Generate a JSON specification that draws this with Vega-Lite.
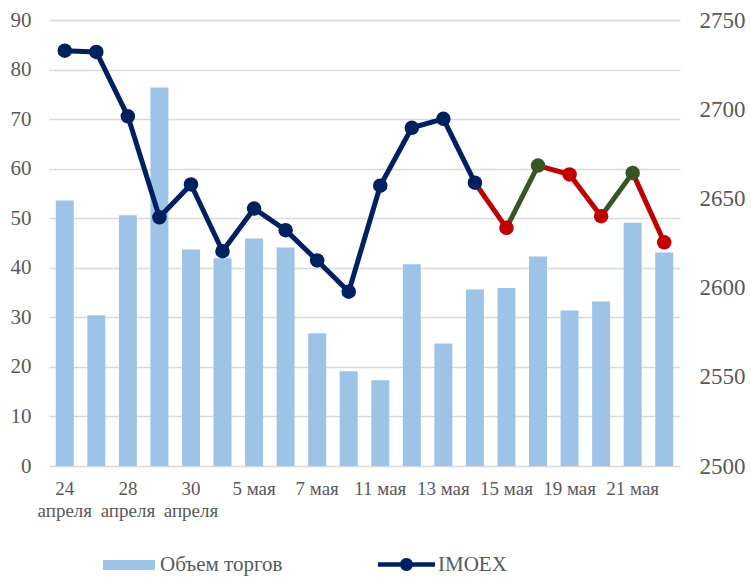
{
  "$schema": "https://vega.github.io/schema/vega-lite/v6.json",
  "width": 631,
  "height": 446,
  "autosize": "none",
  "padding": {"left": 49, "top": 20, "right": 71, "bottom": 111},
  "config": {
    "font": "Liberation Serif",
    "view": {"stroke": null},
    "axis": {"labelColor": "#595959", "ticks": false, "domain": false, "labelFont": "Liberation Serif"},
    "legend": {"labelFont": "Liberation Serif", "labelColor": "#595959", "labelFontSize": 21}
  },
  "data": {
    "values": [
      {"d": "24 апреля", "vol": 53.6, "imoex": 2732.8, "trend": "base"},
      {"d": "25 апреля", "vol": 30.4, "imoex": 2732.1, "trend": "base"},
      {"d": "28 апреля", "vol": 50.6, "imoex": 2696.0, "trend": "base"},
      {"d": "29 апреля", "vol": 76.4, "imoex": 2639.4, "trend": "base"},
      {"d": "30 апреля", "vol": 43.7, "imoex": 2657.8, "trend": "base"},
      {"d": "2 мая", "vol": 41.9, "imoex": 2620.4, "trend": "base"},
      {"d": "5 мая", "vol": 45.9, "imoex": 2644.3, "trend": "base"},
      {"d": "6 мая", "vol": 44.1, "imoex": 2632.2, "trend": "base"},
      {"d": "7 мая", "vol": 26.8, "imoex": 2615.2, "trend": "base"},
      {"d": "8 мая", "vol": 19.1, "imoex": 2597.7, "trend": "base"},
      {"d": "11 мая", "vol": 17.3, "imoex": 2657.1, "trend": "base"},
      {"d": "12 мая", "vol": 40.7, "imoex": 2689.6, "trend": "base"},
      {"d": "13 мая", "vol": 24.7, "imoex": 2694.6, "trend": "base"},
      {"d": "14 мая", "vol": 35.6, "imoex": 2658.8, "trend": "base"},
      {"d": "15 мая", "vol": 35.9, "imoex": 2633.5, "trend": "down"},
      {"d": "16 мая", "vol": 42.3, "imoex": 2668.4, "trend": "up"},
      {"d": "19 мая", "vol": 31.4, "imoex": 2663.4, "trend": "down"},
      {"d": "20 мая", "vol": 33.2, "imoex": 2640.0, "trend": "down"},
      {"d": "21 мая", "vol": 49.1, "imoex": 2664.3, "trend": "up"},
      {"d": "22 мая", "vol": 43.1, "imoex": 2625.4, "trend": "down"}
    ]
  },
  "layer": [
    {
      "mark": {"type": "bar"},
      "encoding": {
        "x": {
          "field": "d",
          "type": "ordinal",
          "sort": null,
          "scale": {"paddingInner": 0.43, "paddingOuter": 0.215},
          "axis": {
            "title": null,
            "labelAngle": 0,
            "labelFontSize": 19,
            "labelPadding": 13,
            "labelLineHeight": 22,
            "labelBaseline": "top",
            "labelOverlap": false,
            "labelBound": false,
            "values": ["24 апреля", "28 апреля", "30 апреля", "5 мая", "7 мая", "11 мая", "13 мая", "15 мая", "19 мая", "21 мая"],
            "labelExpr": "indexof(datum.value, 'апреля') >= 0 ? [replace(datum.value, ' апреля', ''), 'апреля'] : datum.value"
          }
        },
        "y": {
          "field": "vol",
          "type": "quantitative",
          "scale": {"domain": [0, 90], "nice": false},
          "axis": {
            "title": null,
            "orient": "left",
            "values": [0, 10, 20, 30, 40, 50, 60, 70, 80, 90],
            "grid": true,
            "gridColor": "#D9D9D9",
            "gridWidth": 1.5,
            "labelFontSize": 21,
            "labelPadding": 18
          }
        },
        "fill": {
          "datum": "Объем торгов",
          "type": "nominal",
          "scale": {"range": ["#9DC3E6"]},
          "legend": {
            "title": null,
            "orient": "none",
            "legendX": 54,
            "legendY": 519,
            "symbolType": "M-1,-0.1923H1V0.1923H-1Z",
            "symbolSize": 2704,
            "symbolStrokeWidth": 0,
            "labelOffset": 5
          }
        }
      }
    },
    {
      "layer": [
        {
          "transform": [{"filter": "datum.trend === 'base'"}],
          "mark": {"type": "line", "strokeWidth": 5, "strokeJoin": "round", "strokeCap": "round"},
          "encoding": {
            "x": {"field": "d", "type": "ordinal", "sort": null},
            "y": {
              "field": "imoex",
              "type": "quantitative",
              "scale": {"domain": [2500, 2750], "nice": false, "zero": false},
              "axis": {
                "title": null,
                "orient": "right",
                "format": "d",
                "values": [2500, 2550, 2600, 2650, 2700, 2750],
                "grid": false,
                "labelFontSize": 23,
                "labelPadding": 19
              }
            },
            "stroke": {
              "datum": "IMOEX",
              "type": "nominal",
              "scale": {"range": ["#002060"]},
              "legend": {
                "title": null,
                "orient": "none",
                "legendX": 329,
                "legendY": 516,
                "symbolType": "M-1,-0.079H1V0.079H-1Z M0.228,0A0.228,0.228 0 1,1 -0.228,0A0.228,0.228 0 1,1 0.228,0Z",
                "symbolSize": 3249,
                "labelOffset": 3,
                "encode": {"symbols": {"update": {"fill": {"value": "#002060"}, "stroke": {"value": "transparent"}, "strokeWidth": {"value": 0}}}}
              }
            }
          }
        },
        {
          "transform": [
            {"window": [{"op": "lag", "field": "imoex", "as": "prev"}, {"op": "lag", "field": "d", "as": "prevd"}]},
            {"filter": "datum.trend !== 'base'"}
          ],
          "mark": {"type": "rule", "strokeWidth": 5, "strokeCap": "round"},
          "encoding": {
            "x": {"field": "prevd", "type": "ordinal", "sort": null},
            "x2": {"field": "d"},
            "y": {"field": "prev", "type": "quantitative"},
            "y2": {"field": "imoex"},
            "color": {
              "field": "trend",
              "type": "nominal",
              "scale": {"domain": ["base", "down", "up"], "range": ["#002060", "#C00000", "#375623"]},
              "legend": null
            }
          }
        },
        {
          "mark": {"type": "circle", "size": 210, "opacity": 1},
          "encoding": {
            "x": {"field": "d", "type": "ordinal", "sort": null},
            "y": {"field": "imoex", "type": "quantitative"},
            "color": {
              "field": "trend",
              "type": "nominal",
              "scale": {"domain": ["base", "down", "up"], "range": ["#002060", "#C00000", "#375623"]},
              "legend": null
            }
          }
        }
      ]
    }
  ],
  "resolve": {"scale": {"y": "independent"}}
}
